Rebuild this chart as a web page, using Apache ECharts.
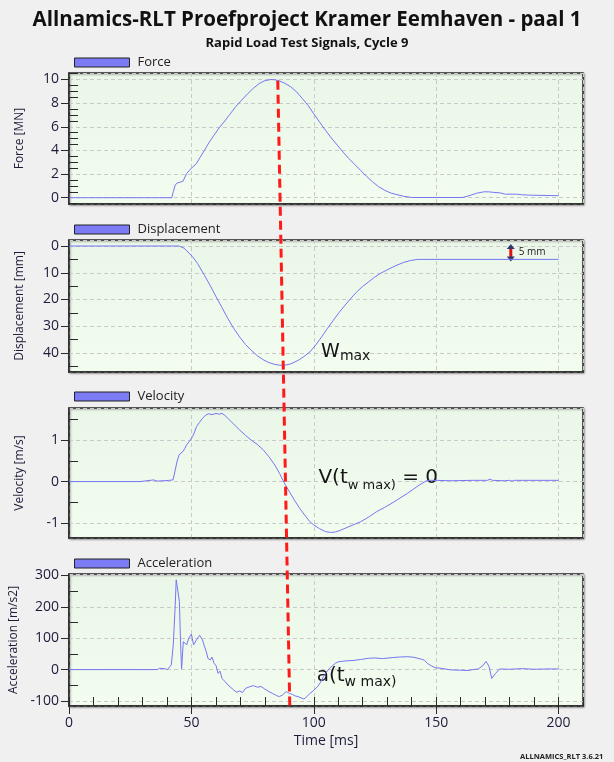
<!DOCTYPE html>
<html><head><meta charset="utf-8">
<script src="https://cdn.jsdelivr.net/npm/echarts@6/dist/echarts.min.js"></script>
<style>html,body{margin:0;padding:0;background:#f0f0f0}#c{width:614px;height:762px}</style>
</head><body><div id="c"></div>
<script>
// ---------------- data ----------------
const forceT = [0,42,42.6,43.4,44.2,45.5,46.6,48.1,50,52.1,53.5,55.3,57.3,59.3,61.3,63.3,65.7,68.1,70.5,73,75.3,77.7,80,82.5,84,85.7,88,90.5,93,95.3,97.7,100,102.4,104.8,107.2,109.6,112,114.4,116.8,119.2,121.6,124,126.4,128.8,131.2,133.6,136.8,140,160.8,163.9,166.5,169.5,171.5,173.5,176,178.3,183,185,187.9,200];
const forceV = [0,0,0.5,1.07,1.25,1.32,1.4,2.06,2.5,2.9,3.4,4.0,4.7,5.3,5.9,6.4,7.05,7.7,8.25,8.8,9.25,9.66,9.9,10.0,9.98,9.9,9.7,9.4,8.95,8.4,7.8,7.1,6.4,5.7,5.05,4.45,3.85,3.3,2.8,2.3,1.8,1.35,0.95,0.65,0.42,0.28,0.12,0.02,0.02,0.2,0.38,0.5,0.5,0.45,0.42,0.3,0.3,0.25,0.22,0.17];

const dispT = [0,45,47,50.5,52.5,55.3,57.7,60.1,62.5,64.9,67.3,69.7,72.1,74.5,76.9,79.3,81.7,84.1,86,88,90.5,93.6,96,98.4,100.8,103.2,105.6,108,110.4,112.8,115.2,117.6,120,122.4,124.8,127.2,129.6,132,134.4,136.8,139.6,142.4,200];
const dispV = [0,0,0.8,4,6.5,10.9,14.8,19,23,27.1,30.8,34,36.8,39,41,42.5,43.6,44.25,44.55,44.6,44.1,42.75,41.3,39.6,37,34,30.8,27.75,24.8,22.1,19.5,17.1,15.1,13.4,11.7,10.25,9.1,8,7,6.1,5.4,5,5];

const velT = [0,29,29.8,34.6,35.4,36,41,42.5,43.4,44.2,45,45.6,46.6,47.3,48.1,48.8,49.5,50.5,51.3,52.1,53.3,54.5,55.7,56.9,58.5,60.1,61.3,62.5,63.7,64.9,67.3,69.7,72.1,74.5,76.9,79.3,81.7,84.1,86,88,90,92,94.4,96.8,98.4,100,102.4,104.8,106.8,108.8,110.8,112.8,116,119.2,122.4,125.6,128.8,132,135.2,138.4,140.8,143.2,146.4,150,156,165,171,172,173,178,180,181,182,190,200];
const velV = [0,0,0.04,0.04,0,0.01,0.03,0.04,0.28,0.5,0.65,0.66,0.73,0.8,0.89,0.88,1.0,1.09,1.2,1.33,1.43,1.53,1.6,1.64,1.62,1.65,1.63,1.65,1.6,1.53,1.39,1.25,1.12,1.0,0.9,0.77,0.6,0.40,0.2,-0.04,-0.24,-0.44,-0.66,-0.85,-0.97,-1.05,-1.14,-1.21,-1.23,-1.22,-1.18,-1.13,-1.05,-0.97,-0.86,-0.73,-0.63,-0.52,-0.4,-0.28,-0.18,-0.08,0.03,0.03,0.02,0.03,0.03,0.06,0.03,0.02,0.03,0.01,0.03,0.03,0.03];

const accT = [0,36,37,39,40.2,41.8,42.6,43.4,43.8,44.5,45.1,45.6,46,46.7,47.3,48.1,48.9,50,50.9,52.1,53.4,54.5,55.3,56.1,56.8,57.7,58.4,59.3,60.1,60.9,61.7,62.5,63.7,64.9,66.1,67.3,68.5,69.7,70.9,72.1,73.7,75.3,76.9,78.5,80,81.6,83.2,84.8,86,87.2,88.8,90,91.2,92.4,93.6,94.8,96,97.2,98.4,100,101.6,102.8,104,105.2,106.4,107.6,108.8,110,111.2,113.6,116,119,122.4,125,128,132,135,138.4,141,144,145.2,146.4,148,149.6,152,156,160,163.2,165,167.2,169,170.4,171.6,172.7,173.5,174.3,175.9,180,185,190,195,200];
const accV = [0,0,4,3,0,15,79,206,286,281,217,79,2,89,95,79,100,113,79,95,109,95,75,57,35,31,40,20,12,-12,-5,-28,-38,-49,-57,-65,-72,-68,-73,-60,-55,-51,-56,-54,-62,-70,-76,-83,-86,-81,-70,-76,-79,-84,-86,-90,-94,-86,-76,-66,-54,-40,-22,-8,4,12,20,25,26,28,29,32,36,37,35,38,40,41,39,33,30,20,12,6,4,-1,-2,-3,0,2,12,26,10,-28,-25,-12,2,1,3,1,2,2];

const seriesNames = ['Force','Displacement','Velocity','Acceleration'];
const yAxisNames = ['Force [MN]','Displacement [mm]','Velocity [m/s]','Acceleration [m/s2]'];
const yMin = [-0.53, -2.25, -1.365, -116];
const yMax = [10.55, 47.1, 1.78, 304.5];
const ySplit = [5, 5, 3, 4];
const yMinorSplit = [4, 2, 2, 2];
const xMin = 0, xMax = 210, xInterval = 50, xMinorInterval = 10;
const xAxisName = 'Time [ms]';
const titleText = 'Allnamics-RLT Proefproject Kramer Eemhaven - paal 1';
const subText = 'Rapid Load Test Signals, Cycle 9';
const footerText = 'ALLNAMICS_RLT 3.6.21';
// annotation anchors (data units)
const redLineTop = [85.3, 9.9];      // force panel
const redLineBottom = [90.2, -116];  // acceleration panel
const wmaxAt = [103, 42.1];
const vAt = [101.9, -0.07];
const aAt = [101.2, -42];
const arrowT = 180.5, arrowFrom = 0, arrowTo = 5, arrowLabel = '5 mm';

// ---------------- layout ----------------
const gridTops = [73, 240, 408, 574];
const gridHeights = [131, 132, 130, 132];
const zip = (a, b) => a.map((t, i) => [t, b[i]]);
const seriesData = [zip(forceT, forceV), zip(dispT, dispV), zip(velT, velV), zip(accT, accV)];

const FONT = '"Open Sans", "DejaVu Sans", sans-serif';
const lineColor = '#7676f4';
const bg = {type:'linear', x:0, y:0, x2:0, y2:1, colorStops:[{offset:0,color:'#eaf6e8'},{offset:1,color:'#f2fdf0'}]};

const grid = gridTops.map((t, i) => ({
  left: 69, right: 31, top: t, height: gridHeights[i], show: true,
  backgroundColor: bg, borderColor: '#2a2a2a', borderWidth: 1.5,
  shadowColor: 'rgba(0,0,0,0.35)', shadowBlur: 2, shadowOffsetX: 1, shadowOffsetY: 1,
  containLabel: false, outerBoundsMode: 'none'
}));

const dashed = {show: true, lineStyle: {color: '#c9c9c9', type: [4, 3], width: 1}};

const xAxis = [0,1,2,3].map(i => ({
  type: 'value', gridIndex: i, min: xMin, max: xMax, interval: xInterval, position: 'bottom',
  axisLine: {show: true, onZero: false, lineStyle: {color: '#2a2a2a', width: 1.5}},
  axisTick: {show: i === 3, length: 8, lineStyle: {color: '#2a2a2a'}},
  axisLabel: {show: i === 3, margin: 10, fontSize: 14, fontFamily: FONT, color: '#1c1c3a', showMaxLabel: false},
  splitLine: dashed,
  name: i === 3 ? xAxisName : '', nameLocation: 'middle', nameGap: 28,
  nameTextStyle: {fontSize: 14, fontFamily: FONT, color: '#1c1c3a'}
}));
xAxis.push({
  type: 'value', gridIndex: 3, min: xMin, max: xMax, interval: xMinorInterval, position: 'bottom', offset: 0,
  axisLine: {show: false, onZero: false}, axisLabel: {show: false}, splitLine: {show: false},
  axisTick: {show: true, inside: true, length: 9, lineStyle: {color: '#2a2a2a'}}
});

const yAxis = [];
for (let i = 0; i < 4; i++) {
  yAxis.push({
    type: 'value', gridIndex: i, min: yMin[i], max: yMax[i], splitNumber: ySplit[i], position: 'left',
    inverse: i === 1,
    axisLine: {show: true, onZero: false, lineStyle: {color: '#2a2a2a', width: 1.5}},
    axisTick: {show: true, length: 8, lineStyle: {color: '#2a2a2a'}},
    axisLabel: {margin: 10, fontSize: 14, fontFamily: FONT, color: '#1c1c3a', showMinLabel: false, showMaxLabel: false},
    splitLine: dashed,
    name: yAxisNames[i], nameLocation: 'middle', nameGap: 43,
    nameTextStyle: {fontSize: 12, fontFamily: FONT, color: '#1c1c3a'}
  });
}
for (let i = 0; i < 4; i++) {
  yAxis.push({
    type: 'value', gridIndex: i, min: yMin[i], max: yMax[i], splitNumber: ySplit[i], position: 'left',
    inverse: i === 1,
    axisLine: {show: false, onZero: false}, axisLabel: {show: false}, splitLine: {show: false},
    axisTick: {show: false, inside: true},
    minorTick: {show: true, splitNumber: yMinorSplit[i], length: 9, lineStyle: {color: '#2a2a2a', width: 1}}
  });
}

const series = seriesNames.map((n, i) => ({
  name: n, type: 'line', xAxisIndex: i, yAxisIndex: i, data: seriesData[i],
  showSymbol: false, symbol: 'none', animation: false, silent: true,
  lineStyle: {color: lineColor, width: 1}, itemStyle: {color: '#7b7bf5'}
}));

const legendTops = [51, 218, 385, 552];
const legend = seriesNames.map((n, i) => ({
  data: [n], left: 69, top: legendTops[i], icon: 'rect', itemWidth: 55, itemHeight: 9,
  selectedMode: false, itemStyle: {borderColor: '#222', borderWidth: 1},
  textStyle: {fontSize: 13, fontFamily: FONT, color: '#222', padding: [0, 0, 0, 3]}
}));

const option = {
  backgroundColor: '#f0f0f0', animation: false,
  title: {
    text: titleText, subtext: subText, left: 'center', top: 5, itemGap: 6,
    textStyle: {fontSize: 20.5, fontWeight: 'bold', fontFamily: FONT, color: '#111'},
    subtextStyle: {fontSize: 13, fontWeight: 'bold', fontFamily: FONT, color: '#111'}
  },
  grid, xAxis, yAxis, series, legend
};

const chart = echarts.init(document.getElementById('c'), null, {renderer: 'canvas'});
chart.setOption(option);

// ---------------- annotations ----------------
const ctx = document.createElement('canvas').getContext('2d');
function measure(text, size, family) { ctx.font = size + 'px ' + family; return ctx.measureText(text).width; }
const AFONT = '"DejaVu Sans"';
function richText(parts, x, baseline) {
  const els = [];
  let cx = x;
  parts.forEach(p => {
    els.push({type: 'text', x: cx, y: baseline + (p.dy || 0) - 0.35 * p.size, silent: true,
      style: {text: p.t, fontSize: p.size, fontFamily: AFONT, fill: '#151515', align: 'left', verticalAlign: 'middle'}});
    cx += measure(p.t, p.size, AFONT);
  });
  return els;
}
const px = (i, v) => chart.convertToPixel({xAxisIndex: i, yAxisIndex: i}, v);

const graphic = [];
const p1 = px(0, redLineTop), p2 = px(3, redLineBottom);
graphic.push({type: 'line', silent: true, z: 100, shape: {x1: p1[0], y1: p1[1], x2: p2[0], y2: p2[1]},
  style: {stroke: '#ff1a1a', lineWidth: 3, lineDash: [9, 5]}});

const w = px(1, wmaxAt);
graphic.push(...richText([{t: 'W', size: 19}, {t: 'max', size: 14, dy: 2.5}], w[0], w[1]));
const v = px(2, vAt);
graphic.push(...richText([{t: 'V(t', size: 20}, {t: 'w max)', size: 13, dy: 6}, {t: ' = 0', size: 20}], v[0], v[1]));
const a = px(3, aAt);
graphic.push(...richText([{t: 'a(t', size: 20}, {t: 'w max)', size: 14, dy: 4}], a[0], a[1]));

const ar1 = px(1, [arrowT, arrowFrom]), ar2 = px(1, [arrowT, arrowTo]);
graphic.push({type: 'line', silent: true, shape: {x1: ar1[0], y1: ar1[1] + 2, x2: ar2[0], y2: ar2[1] - 2},
  style: {stroke: '#e01010', lineWidth: 3}});
graphic.push({type: 'polygon', silent: true, shape: {points: [[ar1[0], ar1[1] - 2], [ar1[0] - 4, ar1[1] + 3], [ar1[0] + 4, ar1[1] + 3]]}, style: {fill: '#2b3a6b'}});
graphic.push({type: 'polygon', silent: true, shape: {points: [[ar2[0], ar2[1] + 2], [ar2[0] - 4, ar2[1] - 3], [ar2[0] + 4, ar2[1] - 3]]}, style: {fill: '#2b3a6b'}});
graphic.push({type: 'text', silent: true, x: ar1[0] + 8, y: (ar1[1] + ar2[1]) / 2 - 1,
  style: {text: arrowLabel, fontSize: 10, fontFamily: FONT, fill: '#222', align: 'left', verticalAlign: 'middle'}});

graphic.push({type: 'text', silent: true, x: 520, y: 757,
  style: {text: footerText, fontSize: 7.5, fontWeight: 'bold', fontFamily: FONT, fill: '#222', align: 'left', verticalAlign: 'middle'}});

chart.setOption({graphic});
</script></body></html>
